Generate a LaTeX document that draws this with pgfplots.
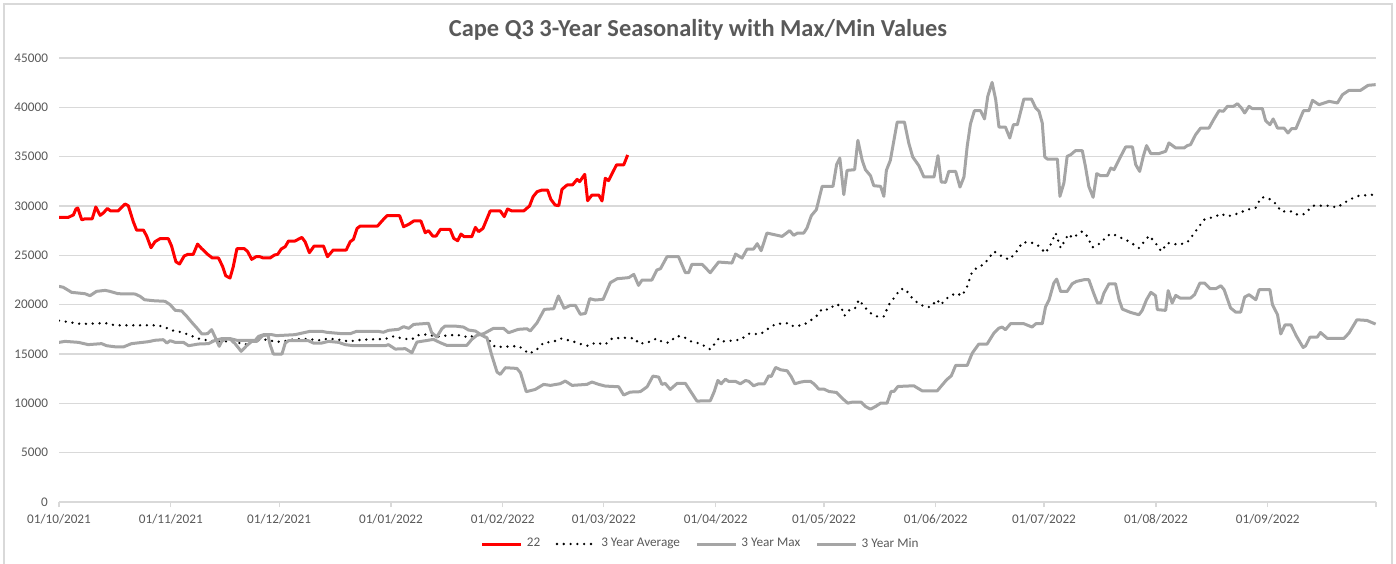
\documentclass[border=0pt]{standalone}
\usepackage{fontspec}
\setmainfont{Carlito}
\usepackage{pgfplots}
\pgfplotsset{compat=1.18}
\definecolor{txtgray}{HTML}{595959}
\definecolor{gridgray}{HTML}{D9D9D9}
\definecolor{linegray}{HTML}{A5A5A5}
\definecolor{xred}{HTML}{FF0000}
\begin{document}
\begin{tikzpicture}[x=1pt,y=1pt]
\useasboundingbox (0,0) rectangle (698,281.5);
\draw[gridgray,line width=0.6pt] (2,-5) rectangle (696,279.5);
\node[font=\fontsize{12.2}{14}\selectfont\bfseries,text=txtgray] at (349,266.5) {Cape Q3 3-Year Seasonality with Max/Min Values};
\begin{axis}[
  at={(29.5pt,30.5pt)}, anchor=south west,
  scale only axis, width=658.5pt, height=222pt,
  xmin=0, xmax=365, ymin=0, ymax=45000,
  axis y line*=left, axis x line*=bottom,
  y axis line style={draw=none},
  x axis line style={gridgray,line width=0.6pt},
  ytick={0,5000,...,45000},
  scaled y ticks=false,
  ymajorgrids, grid style={gridgray,line width=0.6pt},
  xtick={0,31,61,92,123,151,182,212,243,273,304,335,365},
  xticklabels={01/10/2021,01/11/2021,01/12/2021,01/01/2022,01/02/2022,01/03/2022,01/04/2022,01/05/2022,01/06/2022,01/07/2022,01/08/2022,01/09/2022,},
  tick align=outside,
  xtick style={gridgray,line width=0.6pt},
  major tick length=2.5pt,
  ytick style={draw=none},
  ticklabel style={font=\fontsize{6.6}{7}\selectfont,text=txtgray},
  yticklabel style={xshift=0.5pt},
  /pgf/number format/.cd, 1000 sep={}, assume math mode=true, /pgfplots/.cd,
  legend columns=4,
  legend style={at={(0.488,-0.0946)},anchor=center,draw=none,fill=none,
    font=\fontsize{6.6}{7}\selectfont,text=txtgray,
    /tikz/every even column/.append style={column sep=5.7pt},
    inner sep=0pt},
  legend image code/.code={\draw[#1] (0pt,0pt) -- (19.5pt,0pt);},
  legend cell align=left,
]
\addplot[xred,line width=1.5pt,line join=round] coordinates {
(0,28850)(2.6,28850)(4,29100)(4.7,29700)(5.2,29800)(6.3,28600)(7.2,28700)(9.2,28700)(10.2,29900)(11.4,29050)(12.3,29300)(13.4,29750)(14.3,29500)(16.4,29500)(18.3,30200)(19.2,30030)(20.6,28400)(21.5,27560)(23.4,27560)(24.3,26950)(25.5,25770)(26.6,26380)(28,26690)(30.3,26690)(31.2,25940)(32.4,24350)(33.4,24120)(34.7,24930)(35.7,25100)(37.2,25100)(38.4,26140)(39.5,25700)(41.2,25100)(42.5,24730)(44.2,24730)(45.3,23910)(46.2,22930)(47.4,22700)(48.3,23850)(49.3,25670)(51.4,25670)(52.3,25370)(53.4,24590)(54.6,24860)(55.7,24860)(56.6,24730)(58.5,24730)(59.7,25030)(60.6,25100)(61.6,25640)(62.7,25880)(63.6,26450)(65.4,26450)(67.3,26820)(68.2,26380)(69.4,25270)(70.7,25940)(73.3,25940)(74.4,24860)(76,25540)(79.6,25540)(80.7,26380)(81.6,26620)(82.6,27730)(83.5,27970)(88.3,27970)(89.5,28480)(90.9,29020)(94.4,29020)(95.5,27900)(96.9,28140)(98.3,28480)(100.3,28480)(101.5,27290)(102.4,27500)(103.6,26950)(104.5,26950)(105.7,27630)(108.4,27630)(109.4,26720)(110.5,26480)(111.4,27160)(112.3,26890)(114.4,26890)(115.4,27830)(116.3,27400)(117.5,27730)(119.5,29500)(122.3,29500)(123.4,28920)(124.3,29700)(125.5,29500)(128.8,29500)(130.4,30000)(131.4,30950)(132.5,31450)(133.9,31620)(135.4,31620)(136.3,30680)(137.5,30100)(138.5,30030)(139.4,31690)(140.8,32130)(142.3,32130)(143.6,32700)(144.3,32470)(145.7,33210)(146.5,30540)(147.7,31110)(149.6,31110)(150.5,30510)(151.4,32810)(152.3,32570)(154.5,34160)(156.5,34160)(157.6,35170)
};
\addlegendentry{22}
\addplot[black,line width=1.3pt,line cap=round,dash pattern=on 0pt off 3.4pt] coordinates {
(0,18380)(3.1,18210)(6.3,18040)(10.9,18110)(12.8,18140)(15.5,17910)(26.6,17910)(28.9,17800)(31.2,17400)(33.6,17230)(35.9,16960)(38.6,16560)(41,16390)(43.3,16280)(47,16280)(49.3,16180)(51.6,15950)(53.4,16280)(56.2,16450)(58.1,16450)(59.9,16220)(62.2,16280)(65.4,16520)(69.1,16520)(71.9,16390)(74.7,16560)(77.5,16450)(80.2,16280)(83.9,16450)(90.4,16520)(92.7,16790)(95.5,16550)(97.8,16480)(99.2,16890)(102,16990)(104.7,16750)(108.4,16920)(111.7,16890)(113.5,16650)(115.8,16990)(118.6,16650)(120.9,15700)(127.3,15810)(128.8,15470)(130.1,15030)(132,15300)(134.3,16140)(137.1,16250)(138.9,16580)(142.2,16310)(144.9,15970)(146.8,15810)(148.6,16140)(151.4,15970)(153.3,16580)(156.5,16650)(159.7,16580)(160.6,16040)(163,16140)(165.7,16580)(167.1,16250)(168.9,16140)(171.2,16820)(173.1,16750)(174.9,16310)(177.8,16040)(180.5,15470)(182.8,16550)(183.8,16270)(188.8,16440)(191.2,17050)(194.4,17020)(197.2,17730)(198.6,18040)(202.2,18130)(203.6,17790)(206.4,17960)(209.7,18740)(211.5,19580)(213.3,19480)(215.2,20060)(216.6,19890)(217.7,18880)(218.9,19420)(220.5,19550)(221.7,20500)(223.1,19820)(224.9,19150)(226.7,18810)(228.6,18810)(230,19990)(231.4,20670)(233.2,21580)(234.6,21580)(236,20840)(237.8,20230)(239.7,19820)(241.5,19750)(243.4,20500)(244.3,19990)(246.2,20670)(248.5,21180)(250.3,20910)(251.7,21860)(253.1,23370)(254.9,23880)(256.3,24050)(259.1,25400)(260.9,24990)(263.3,24560)(265.1,25230)(267,26310)(269.3,26310)(271.1,26080)(273.4,25230)(274.8,26080)(276.2,27260)(277.6,25740)(279.4,26920)(279.9,27160)(280.8,26750)(283.6,27430)(285,26920)(286.4,25810)(288.7,26250)(290.5,26990)(291.9,27190)(293.8,26860)(296.5,26420)(299.3,25740)(302.1,26990)(303.9,26250)(305.5,25400)(307.2,26250)(310.4,26080)(312.7,26310)(315,27430)(317.3,28610)(320.6,28950)(322,29220)(323.8,28950)(326.6,29220)(329.3,29630)(331.6,29800)(333.2,30870)(334.4,30870)(336.3,30570)(337.8,29960)(338.6,29450)(341.8,29450)(343.2,29120)(345.1,29180)(346.4,29630)(347.7,30030)(351.5,30030)(354.3,29860)(356.1,30300)(358,30700)(360.3,31040)(364,31140)
};
\addlegendentry{3 Year Average}
\addplot[linegray,line width=1.5pt,line join=round] coordinates {
(0,21860)(1.2,21760)(3.5,21250)(7.2,21110)(8.6,20910)(10.4,21350)(12.8,21450)(14.1,21350)(16.4,21110)(21.1,21080)(22.5,20840)(23.7,20500)(26.2,20400)(29.4,20340)(30.8,20000)(32.2,19430)(34,19360)(35.4,18820)(36.8,18210)(38.2,17640)(39.6,17030)(41.2,17060)(42.3,17470)(43.3,16690)(44.4,15780)(45.1,16280)(46,16520)(47.4,16520)(48.8,16050)(50.5,15270)(52,15840)(53.4,16280)(54.8,16280)(55.5,16520)(56.4,16860)(57.9,16930)(58.5,15950)(59.4,15000)(61.8,15000)(62.7,16110)(63.6,16350)(69.1,16350)(70.5,16110)(72.8,16110)(74.7,16280)(77.5,16180)(79.3,15950)(81.6,15840)(90.4,15840)(91.3,15950)(93.2,15500)(96,15540)(97.8,15130)(99.2,16210)(103.8,16480)(105.7,16140)(107.5,15870)(113,15870)(114.4,16480)(115.8,16890)(117.7,17060)(120.4,17600)(123.2,17600)(124.6,17160)(127.3,17500)(129.7,17560)(130.6,17330)(132.5,18170)(134.5,19520)(137.1,19590)(138.4,20880)(140,19630)(141.7,19930)(143.1,19930)(144.5,19020)(145.9,19120)(147.1,20610)(148.6,20470)(150.8,20540)(152.8,22230)(154.7,22630)(157.9,22740)(159.3,23070)(160.6,21960)(161.6,22500)(164.3,22500)(165.7,23510)(166.7,23650)(168.5,24860)(171.7,24860)(173.6,23240)(174.5,23240)(175.4,24090)(178.2,24090)(180.5,23240)(182.8,24320)(186.5,24220)(187.5,25130)(189.3,24720)(190.7,25640)(192.5,25640)(193.5,26180)(194.6,25470)(196.2,27260)(200.4,26920)(202.5,27500)(203.6,27030)(204.7,27260)(206.4,27260)(207.3,27770)(208.5,29020)(209.9,29630)(211.5,31990)(214.5,31990)(215.5,34190)(216.4,34860)(217.5,31150)(218.4,33610)(220.5,33680)(221.4,36660)(222.6,34630)(223.5,33680)(224.9,33070)(225.8,32060)(227.7,31990)(228.6,30980)(229.3,33610)(230.4,34630)(232.3,38510)(234.3,38510)(235.5,36390)(236.6,34970)(238.3,34090)(239.7,32940)(242.5,32940)(243.6,35100)(244.5,32430)(245.7,32400)(246.6,33510)(248.5,33510)(249.7,31920)(250.8,32940)(251.7,36050)(252.6,38310)(253.7,39660)(255.4,39660)(256.5,38820)(257.4,41120)(258.6,42530)(259.6,40780)(260.5,38000)(262.3,38000)(263.5,36890)(264.5,38240)(265.6,38240)(267.4,40840)(269.5,40840)(270.7,39930)(271.6,39600)(272.5,38410)(273.2,34970)(273.9,34760)(276.7,34760)(277.4,30980)(278.5,32330)(279.4,35030)(280.4,35200)(281.7,35610)(283.6,35610)(284.5,33950)(285.4,31990)(286.6,30880)(287.6,33280)(288.7,33070)(290.5,33070)(291.5,33850)(292.4,33680)(294,34860)(295.6,35980)(297.5,35980)(298.4,34190)(299.5,33510)(300.5,35030)(301.4,36120)(302.6,35310)(304.8,35310)(306.7,35540)(307.6,36390)(309.5,35880)(311.8,35880)(312.7,36120)(313.6,36220)(315,37230)(316.4,37900)(318.7,37900)(320.1,38820)(321.5,39660)(322.7,39600)(323.8,40100)(325.5,40100)(326.6,40370)(327.7,39930)(328.6,39430)(329.8,40100)(330.7,39870)(333.5,39870)(334.4,38650)(335.6,38240)(336.5,38820)(337.7,37900)(339.5,37900)(340.6,37400)(341.6,37840)(342.8,37840)(344.9,39660)(346.4,39660)(347.4,40710)(349.2,40270)(352,40610)(354.3,40440)(355.7,41280)(357.5,41720)(360.7,41720)(362.8,42230)(364.9,42300)
};
\addlegendentry{3 Year Max}
\addplot[linegray,line width=1.5pt,line join=round] coordinates {
(0,16180)(1.7,16280)(5.4,16180)(8.1,15950)(11.8,16050)(13.2,15840)(16,15710)(17.8,15710)(20.1,16050)(24.8,16250)(26.6,16390)(28.9,16450)(29.9,16110)(30.8,16350)(32.2,16180)(34.5,16180)(35.9,15840)(38.6,16010)(41.4,16050)(43.3,16390)(45.1,16560)(47.4,16560)(49.3,16390)(54.4,16390)(55.3,16790)(56.7,16960)(59,16960)(60.3,16860)(65.4,16960)(69.6,17300)(72.8,17300)(74.2,17200)(78.4,17060)(80.7,17060)(82.5,17300)(88.5,17300)(89.9,17200)(91.3,17400)(94.1,17500)(95.5,17770)(96.9,17600)(98.3,18000)(102.4,18110)(103.3,17160)(104.7,16720)(106.1,17560)(107,17830)(109.8,17830)(112.1,17730)(113.5,17430)(115.4,17330)(117.2,16890)(118.6,16650)(120,14790)(121.4,13170)(122.3,12930)(123.7,13610)(126.9,13540)(127.9,13100)(129.5,11180)(132,11410)(134.3,11920)(136.2,11820)(138.9,11990)(140.3,12260)(142.2,11820)(146.3,11920)(147.7,12160)(149.6,11920)(151.4,11750)(155.1,11680)(156.5,10840)(158.3,11140)(161.1,11180)(163,11680)(164.6,12760)(166.2,12660)(167.1,11920)(168,12020)(169.4,11410)(171.3,12020)(173.6,12020)(176.8,10230)(180.5,10260)(181.6,11200)(182.6,12320)(183.5,11980)(184.7,12450)(185.6,12220)(187.5,12220)(188.8,11980)(190.3,12320)(191.2,12220)(192.5,11780)(193.9,11980)(195.5,11980)(196.7,12790)(197.4,12720)(198.6,13640)(200,13400)(201.8,13300)(202.9,12720)(203.9,11980)(205.5,12150)(206.6,12220)(208.3,12220)(209.2,11980)(210.6,11440)(212,11440)(213.4,11200)(215.5,11100)(217,10530)(218.6,10020)(219.8,10120)(222.3,10120)(223.5,9680)(224.9,9410)(226.3,9680)(227.7,10020)(229.5,10020)(230.6,11200)(231.4,11200)(232.5,11710)(236.9,11780)(239.2,11270)(243.4,11270)(246,12390)(247.3,12790)(248.5,13840)(251.7,13840)(253.1,15090)(254.9,16000)(257.2,16000)(259.1,17120)(260.5,17620)(261.4,17730)(262.3,17460)(263.7,18070)(267.4,18070)(269.7,17730)(270.7,18070)(272.5,18070)(273.4,19760)(274.4,20500)(275.7,22190)(276.5,22590)(277.6,21340)(279.4,21340)(280.8,22120)(282,22360)(284.1,22530)(285.4,22530)(286.8,21110)(287.8,20170)(288.7,20170)(289.6,21180)(291,22120)(292.8,22120)(293.8,20500)(294.7,19550)(297,19210)(299.3,18980)(300.2,19420)(301.4,20500)(302.6,21250)(303.9,20910)(304.4,19500)(306.7,19420)(307.4,21420)(308.5,20170)(309.5,20940)(310.7,20670)(313.6,20670)(314.7,21010)(316.2,22190)(317.5,22190)(319,21620)(320.6,21620)(322,21920)(322.9,21520)(324.7,19660)(326.1,19250)(327.5,19250)(328.6,20770)(329.8,21010)(331.7,20500)(332.6,21520)(335.6,21520)(336.3,20000)(337.7,18990)(338.6,17030)(339.8,17960)(341.4,17960)(343,16780)(344.8,15660)(345.5,15830)(346.7,16710)(348.7,16710)(349.6,17180)(351.5,16580)(356.1,16580)(357.5,17120)(359.7,18470)(362.5,18400)(364.9,18030)
};
\addlegendentry{3 Year Min}
\end{axis}
\end{tikzpicture}
\end{document}
